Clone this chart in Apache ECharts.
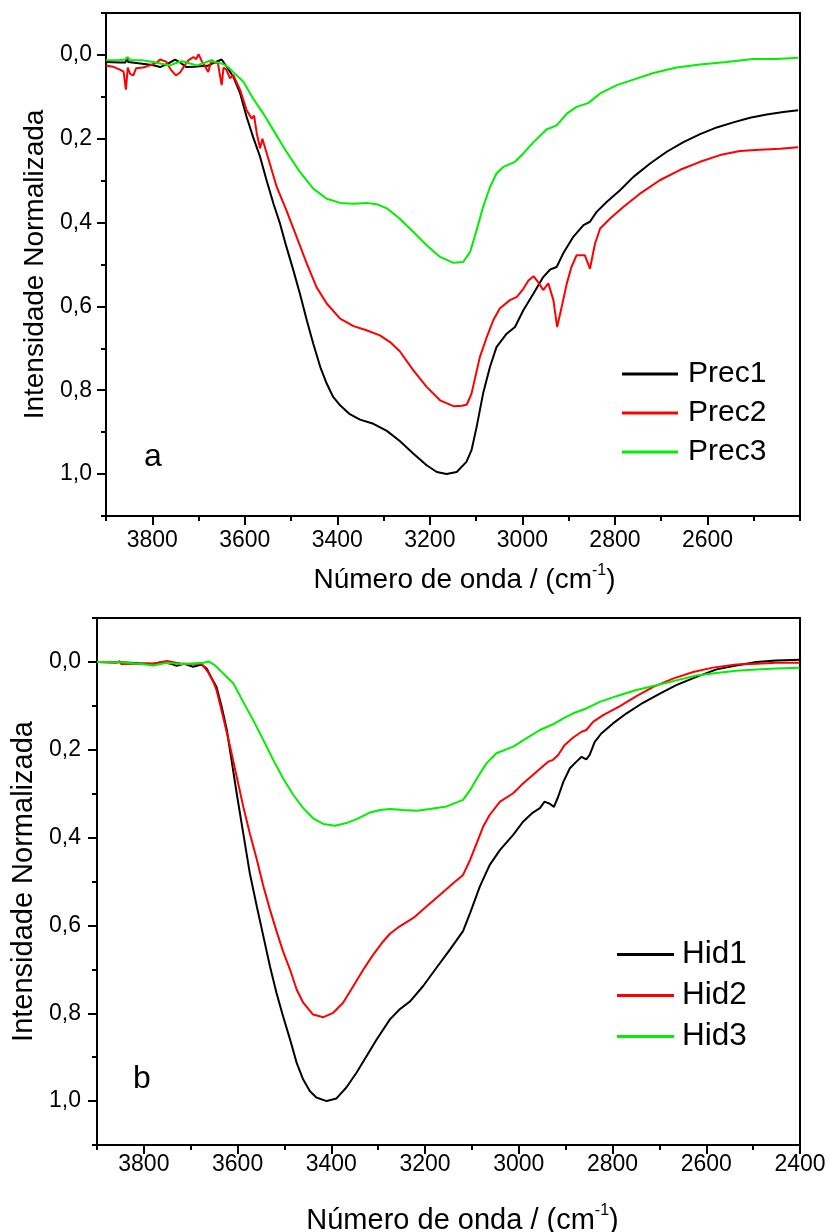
<!DOCTYPE html>
<html><head><meta charset="utf-8">
<script src="https://cdn.jsdelivr.net/npm/echarts@6/dist/echarts.min.js"></script>
<style>html,body{margin:0;padding:0;background:#fff}#c{width:830px;height:1232px}</style>
</head><body><div id="c"></div>
<script>
const FONT = 'Liberation Sans, Arial, sans-serif';

// ---- Panel a (Prec) ----
const prec1Wn = [3900,3870,3858,3855,3852,3830,3800,3783,3765,3751,3740,3726,3710,3697,3680,3665,3650,3638,3625,3610,3596,3582,3567,3553,3538,3524,3510,3495,3481,3466,3452,3437,3423,3409,3394,3373,3351,3322,3293,3265,3236,3207,3185,3164,3142,3121,3110,3099,3085,3070,3056,3034,3016,2998,2976,2955,2940,2926,2912,2890,2868,2854,2840,2818,2789,2760,2724,2688,2652,2616,2580,2544,2508,2472,2436,2404];
const prec1Val = [0.017,0.018,0.018,0.006,0.017,0.020,0.024,0.029,0.020,0.011,0.018,0.029,0.028,0.027,0.026,0.018,0.011,0.030,0.052,0.092,0.148,0.196,0.243,0.299,0.355,0.402,0.458,0.514,0.569,0.633,0.689,0.744,0.784,0.816,0.836,0.857,0.870,0.880,0.897,0.921,0.951,0.979,0.995,1.000,0.995,0.971,0.943,0.888,0.808,0.744,0.697,0.665,0.649,0.609,0.569,0.530,0.512,0.506,0.474,0.434,0.406,0.398,0.375,0.351,0.323,0.291,0.259,0.231,0.208,0.189,0.173,0.161,0.150,0.142,0.136,0.132];

const prec2Wn = [3900,3885,3870,3862,3857,3853,3848,3841,3835,3820,3805,3790,3783,3770,3760,3749,3740,3730,3722,3711,3705,3700,3693,3687,3679,3672,3665,3658,3652,3650,3646,3640,3632,3625,3610,3596,3585,3580,3574,3567,3562,3546,3531,3510,3488,3466,3445,3423,3394,3365,3337,3308,3286,3265,3236,3207,3178,3149,3130,3120,3110,3092,3077,3063,3049,3027,3012,2998,2987,2976,2966,2955,2944,2933,2925,2915,2904,2894,2883,2865,2854,2843,2832,2811,2782,2746,2703,2659,2616,2573,2530,2487,2443,2404];
const prec2Val = [0.025,0.028,0.035,0.040,0.083,0.030,0.045,0.049,0.032,0.030,0.025,0.018,0.011,0.016,0.035,0.049,0.042,0.025,0.013,0.005,0.010,-0.002,0.015,0.025,0.041,0.012,0.018,0.020,0.060,0.072,0.030,0.035,0.056,0.048,0.084,0.132,0.152,0.145,0.188,0.223,0.200,0.259,0.315,0.371,0.434,0.498,0.554,0.593,0.629,0.647,0.657,0.669,0.685,0.707,0.752,0.792,0.824,0.838,0.837,0.834,0.808,0.721,0.673,0.633,0.605,0.585,0.577,0.558,0.538,0.528,0.542,0.561,0.545,0.585,0.649,0.601,0.545,0.506,0.478,0.478,0.510,0.450,0.414,0.391,0.363,0.331,0.299,0.274,0.255,0.239,0.229,0.226,0.224,0.220];

const prec3Wn = [3900,3870,3858,3853,3848,3820,3798,3780,3762,3750,3736,3720,3704,3690,3675,3660,3646,3635,3625,3603,3582,3560,3538,3510,3481,3452,3423,3394,3365,3337,3315,3293,3265,3236,3207,3178,3149,3128,3113,3099,3085,3070,3056,3041,3016,2998,2976,2948,2926,2904,2883,2858,2832,2796,2760,2717,2667,2616,2559,2501,2451,2404];
const prec3Val = [0.013,0.012,0.011,0.005,0.012,0.013,0.017,0.021,0.025,0.020,0.015,0.020,0.025,0.020,0.014,0.018,0.022,0.030,0.041,0.064,0.104,0.140,0.180,0.231,0.279,0.319,0.343,0.353,0.355,0.353,0.356,0.366,0.391,0.422,0.454,0.482,0.496,0.494,0.470,0.418,0.363,0.315,0.283,0.267,0.255,0.235,0.208,0.178,0.168,0.140,0.124,0.115,0.092,0.072,0.059,0.043,0.030,0.023,0.017,0.010,0.010,0.007];

// ---- Panel b (Hid) ----
const hid1Wn = [3900,3850,3810,3780,3760,3740,3730,3715,3695,3677,3666,3655,3645,3634,3623,3613,3602,3588,3574,3559,3545,3531,3517,3503,3488,3474,3460,3446,3432,3410,3389,3368,3346,3325,3304,3275,3254,3232,3204,3176,3147,3119,3104,3083,3062,3040,3012,2991,2970,2955,2945,2934,2925,2916,2905,2891,2877,2866,2856,2849,2838,2824,2799,2770,2735,2699,2664,2621,2578,2536,2493,2451,2401];
const hid1Val = [0.000,0.001,0.003,0.004,0.000,0.005,0.009,0.004,0.011,0.006,0.015,0.038,0.057,0.102,0.155,0.223,0.299,0.390,0.481,0.557,0.625,0.693,0.754,0.807,0.860,0.913,0.951,0.977,0.992,1.000,0.994,0.969,0.935,0.898,0.861,0.814,0.791,0.773,0.738,0.697,0.655,0.613,0.572,0.511,0.462,0.428,0.394,0.364,0.343,0.333,0.318,0.323,0.330,0.307,0.273,0.242,0.227,0.216,0.222,0.212,0.182,0.163,0.140,0.117,0.093,0.072,0.053,0.034,0.017,0.008,0.000,-0.003,-0.005];

const hid2Wn = [3900,3860,3852,3848,3810,3780,3751,3720,3695,3677,3663,3652,3645,3631,3616,3602,3588,3574,3559,3545,3531,3517,3503,3488,3474,3460,3439,3417,3396,3375,3353,3332,3311,3289,3275,3254,3225,3197,3168,3140,3119,3104,3090,3076,3062,3040,3012,2991,2962,2937,2927,2916,2902,2884,2866,2856,2841,2820,2785,2749,2713,2671,2628,2586,2536,2493,2451,2401];
const hid2Val = [0.000,0.002,-0.002,0.005,0.004,0.004,-0.002,0.004,0.004,0.004,0.023,0.045,0.064,0.125,0.193,0.261,0.329,0.390,0.450,0.511,0.564,0.613,0.659,0.701,0.746,0.776,0.803,0.809,0.799,0.776,0.738,0.701,0.667,0.636,0.619,0.602,0.583,0.557,0.530,0.504,0.485,0.451,0.413,0.375,0.348,0.318,0.299,0.277,0.250,0.227,0.223,0.212,0.189,0.172,0.159,0.155,0.136,0.121,0.101,0.078,0.057,0.038,0.023,0.013,0.006,0.004,0.002,0.002];

const hid3Wn = [3900,3850,3810,3780,3751,3720,3700,3673,3662,3648,3631,3609,3588,3567,3545,3524,3503,3481,3460,3439,3417,3392,3368,3346,3318,3296,3275,3247,3218,3190,3154,3119,3104,3087,3069,3048,3012,2984,2955,2927,2906,2884,2856,2827,2792,2749,2706,2664,2621,2578,2536,2493,2451,2401];
const hid3Val = [0.000,0.001,0.004,0.008,0.002,0.005,0.004,0.002,-0.001,0.008,0.026,0.049,0.091,0.132,0.178,0.223,0.265,0.303,0.333,0.356,0.369,0.373,0.367,0.358,0.343,0.337,0.335,0.337,0.339,0.335,0.329,0.314,0.292,0.261,0.231,0.208,0.193,0.174,0.155,0.142,0.129,0.117,0.106,0.091,0.078,0.064,0.053,0.042,0.031,0.025,0.020,0.017,0.015,0.013];

// ---- Ticks / labels ----
const xMajorTicksA = [2600,2800,3000,3200,3400,3600,3800];
const xLabelsA = [2600,2800,3000,3200,3400,3600,3800];
const xMajorTicksB = [2400,2600,2800,3000,3200,3400,3600,3800];
const xLabelsB = [2400,2600,2800,3000,3200,3400,3600,3800];
const yMajorTicks = [0,0.2,0.4,0.6,0.8,1.0];
const yLabels = [0,0.2,0.4,0.6,0.8,1.0];

const zip = (xs, ys) => xs.map((x, i) => [x, ys[i]]);
const BLACK = '#000000', RED = '#ff0000', GREEN = '#00f000';

function lineSeries(name, xs, ys, color, xi, yi) {
  return {
    name, type: 'line', xAxisIndex: xi, yAxisIndex: yi,
    data: zip(xs, ys), showSymbol: false, symbol: 'none', smooth: false,
    lineStyle: { color, width: 2 }, itemStyle: { color }, animation: false
  };
}

function xAxes(gridIndex, majors, labels, labelMargin, nameGap, fs, tfs, padLeft) {
  return [
    { type: 'value', gridIndex, min: 2400, max: 3900, interval: 100, inverse: true, position: 'bottom',
      axisLine: { show: true, onZero: false, lineStyle: { color: '#000', width: 2 } },
      axisTick: { show: true, length: 5, lineStyle: { color: '#000', width: 2 } },
      axisLabel: { show: false }, splitLine: { show: false } },
    { type: 'value', gridIndex, min: 2400, max: 3900, interval: 100, inverse: true, position: 'bottom',
      axisLine: { show: false, onZero: false },
      axisTick: { show: true, length: 9, customValues: majors, lineStyle: { color: '#000', width: 2 } },
      axisLabel: { show: true, customValues: labels, margin: labelMargin, fontSize: fs, color: '#000', fontFamily: FONT,
        formatter: v => String(Math.round(v)) },
      splitLine: { show: false },
      name: '{t|Número de onda / (cm}{s|-1}{t|)}', nameLocation: 'middle', nameGap,
      nameTextStyle: { padding: [0, 0, 0, padLeft], rich: {
        t: { fontSize: tfs, lineHeight: tfs + 6, color: '#000', fontFamily: FONT },
        s: { fontSize: 16, lineHeight: 16, verticalAlign: 'top', color: '#000', fontFamily: FONT } } } }
  ];
}

function yAxes(gridIndex, labelMargin, nameGap, fs, tfs) {
  return [
    { type: 'value', gridIndex, min: -0.1, max: 1.1, interval: 0.1, inverse: true, position: 'left',
      axisLine: { show: true, onZero: false, lineStyle: { color: '#000', width: 2 } },
      axisTick: { show: true, length: 5, lineStyle: { color: '#000', width: 2 } },
      axisLabel: { show: false }, splitLine: { show: false } },
    { type: 'value', gridIndex, min: -0.1, max: 1.1, interval: 0.1, inverse: true, position: 'left',
      axisLine: { show: false, onZero: false },
      axisTick: { show: true, length: 9, customValues: yMajorTicks, lineStyle: { color: '#000', width: 2 } },
      axisLabel: { show: true, customValues: yLabels, margin: labelMargin, fontSize: fs, color: '#000', fontFamily: FONT,
        formatter: v => v.toFixed(1).replace('.', ',') },
      splitLine: { show: false },
      name: 'Intensidade Normalizada', nameLocation: 'middle', nameRotate: 90, nameGap,
      nameTextStyle: { fontSize: tfs, color: '#000', fontFamily: FONT } }
  ];
}

const chart = echarts.init(document.getElementById('c'), null, { renderer: 'canvas' });
chart.setOption({
  backgroundColor: '#fff',
  animation: false,
  grid: [
    { left: 106, top: 13, right: 30, height: 503, show: true, borderColor: '#000', borderWidth: 2, backgroundColor: 'transparent', outerBoundsMode: 'none' },
    { left: 97, top: 618, right: 30, height: 527, show: true, borderColor: '#000', borderWidth: 2, backgroundColor: 'transparent', outerBoundsMode: 'none' }
  ],
  xAxis: [
    ...xAxes(0, xMajorTicksA, xLabelsA, 13, 47, 23, 28, 23),
    ...xAxes(1, xMajorTicksB, xLabelsB, 8, 58, 23, 29, 28)
  ],
  yAxis: [
    ...yAxes(0, 14, 55, 23, 28),
    ...yAxes(1, 16, 57, 23, 29)
  ],
  legend: [
    { data: ['Prec1', 'Prec2', 'Prec3'], orient: 'vertical', left: 617, top: 348,
      icon: 'rect', itemWidth: 56, itemHeight: 3, itemGap: -3, selectedMode: false,
      textStyle: { fontSize: 30, lineHeight: 30, padding: [0, 0, 12, 5], color: '#000', fontFamily: FONT } },
    { data: ['Hid1', 'Hid2', 'Hid3'], orient: 'vertical', left: 612, top: 921,
      icon: 'rect', itemWidth: 57, itemHeight: 3, itemGap: -16, selectedMode: false,
      textStyle: { fontSize: 31.5, lineHeight: 32, padding: [0, 0, 25, 3], color: '#000', fontFamily: FONT } }
  ],
  graphic: [
    { type: 'text', style: { text: 'a', x: 153, y: 457, align: 'center', verticalAlign: 'middle', fontSize: 32, fontFamily: FONT, fill: '#000' } },
    { type: 'text', style: { text: 'b', x: 142, y: 1079, align: 'center', verticalAlign: 'middle', fontSize: 32, fontFamily: FONT, fill: '#000' } }
  ],
  series: [
    lineSeries('Prec1', prec1Wn, prec1Val, BLACK, 0, 0),
    lineSeries('Prec2', prec2Wn, prec2Val, RED, 0, 0),
    lineSeries('Prec3', prec3Wn, prec3Val, GREEN, 0, 0),
    lineSeries('Hid1', hid1Wn, hid1Val, BLACK, 2, 2),
    lineSeries('Hid2', hid2Wn, hid2Val, RED, 2, 2),
    lineSeries('Hid3', hid3Wn, hid3Val, GREEN, 2, 2)
  ]
});
</script></body></html>
